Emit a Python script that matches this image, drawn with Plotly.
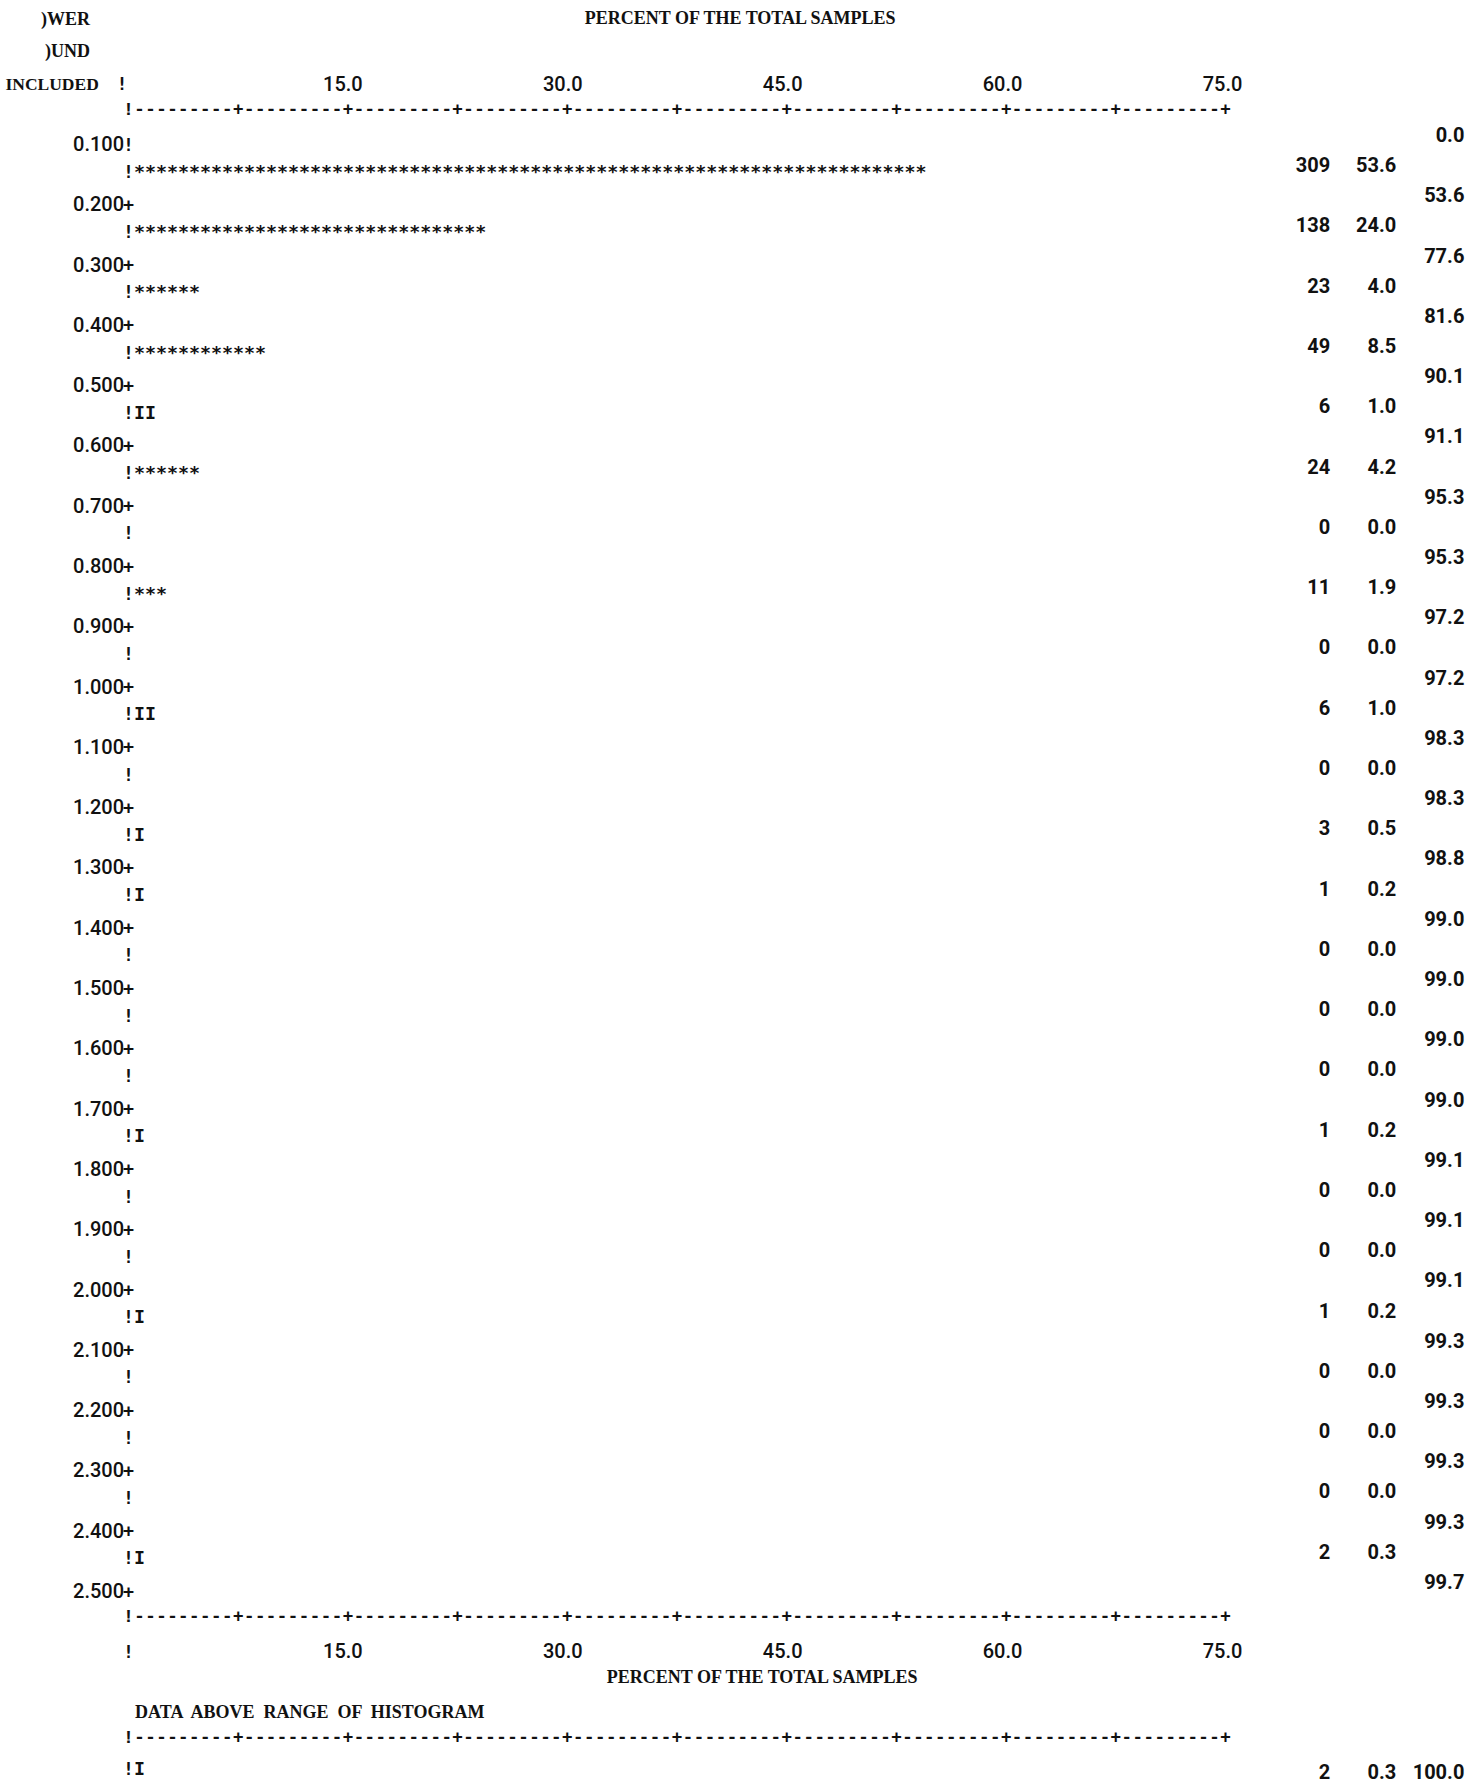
import math
import plotly.graph_objects as go

# ---------------- data ----------------
bound_labels = [0.100, 0.200, 0.300, 0.400, 0.500, 0.600, 0.700, 0.800, 0.900, 1.000,
                1.100, 1.200, 1.300, 1.400, 1.500, 1.600, 1.700, 1.800, 1.900, 2.000,
                2.100, 2.200, 2.300, 2.400, 2.500]
counts = [309, 138, 23, 49, 6, 24, 0, 11, 0, 6, 0, 3, 1, 0, 0, 0, 1, 0, 0, 1, 0, 0, 0, 2]
percents = [53.6, 24.0, 4.0, 8.5, 1.0, 4.2, 0.0, 1.9, 0.0, 1.0, 0.0, 0.5, 0.2, 0.0, 0.0,
            0.0, 0.2, 0.0, 0.0, 0.2, 0.0, 0.0, 0.0, 0.3]
cumulative = [0.0, 53.6, 77.6, 81.6, 90.1, 91.1, 95.3, 95.3, 97.2, 97.2, 98.3, 98.3, 98.8,
              99.0, 99.0, 99.0, 99.0, 99.1, 99.1, 99.1, 99.3, 99.3, 99.3, 99.3, 99.7]
above_count = 2
above_percent = 0.3
above_cumulative = 100.0
tick_values = [15.0, 30.0, 45.0, 60.0, 75.0]
ruler_step = 7.5
axis_max = 75.0

# ---------------- printer grid ----------------
COL = 0.75           # percent per printed character column
ROW = 0.05           # y units per printed line (half a bin)
RIGHT_SHIFT = 0.015  # right-hand columns sit slightly higher on the page
STAR_SHIFT = 0.005   # bar glyph rows sit slightly higher
RULER_SHIFT = 0.009  # dashed rulers sit slightly higher
FS = 18.3
MONO = "Liberation Mono, Courier New, monospace"
SANS_MONO = "DejaVu Sans Mono, Liberation Mono, monospace"
DIGITS = "Roboto, Noto Sans, sans-serif"
SERIF = "Liberation Serif, DejaVu Serif, serif"
INK = "#111111"
NS = 20   # size of numeric text

def bar_string(cnt, pct):
    n = math.ceil(round(pct / COL, 6))
    glyph = "*" if cnt >= 10 else "I"
    return "!" + glyph * n

chars_per_step = int(round(ruler_step / COL))
ruler = "!" + ("-" * (chars_per_step - 1) + "+") * int(round(axis_max / ruler_step))

bar_rows = [b + ROW for b in bound_labels[:-1]]
first_row = bound_labels[0]
last_row = bound_labels[-1]

fig = go.Figure()

def text_trace(x, y, text, pos, font=MONO, weight="normal", size=FS):
    fig.add_trace(go.Scatter(
        x=x, y=y, text=text, mode="text", textposition=pos,
        textfont=dict(family=font, size=size, color=INK, weight=weight),
        hoverinfo="skip", showlegend=False, cliponaxis=False))

# lower-bound labels: number, then "!" / "+" in the axis column
text_trace([-0.4 * COL] * len(bound_labels), bound_labels,
           [f"{b:.3f}" for b in bound_labels], "middle left", font=DIGITS, size=NS, weight=500)
text_trace([0.0] * len(bound_labels), bound_labels,
           ["!" if i == 0 else "+" for i in range(len(bound_labels))],
           "middle center", font=SANS_MONO, weight="bold")

# histogram bars (one printed column per 0.75 %)
text_trace([-0.5 * COL] * len(bar_rows), [y - STAR_SHIFT for y in bar_rows],
           [bar_string(c, p) for c, p in zip(counts, percents)],
           "middle right", font=SANS_MONO, weight="bold")

# counts / percents / cumulative percents
text_trace([109.3 * COL] * len(counts), [y - RIGHT_SHIFT for y in bar_rows],
           [str(c) for c in counts], "middle left", font=DIGITS, size=NS, weight="bold")
text_trace([115.3 * COL] * len(percents), [y - RIGHT_SHIFT for y in bar_rows],
           [f"{p:.1f}" for p in percents], "middle left", font=DIGITS, size=NS, weight="bold")
text_trace([121.5 * COL] * len(cumulative), [y - RIGHT_SHIFT for y in bound_labels],
           [f"{c:.1f}" for c in cumulative], "middle left", font=DIGITS, size=NS, weight="bold")

# rulers
top_ruler = first_row - ROW
bottom_ruler = last_row + ROW
above_ruler = last_row + 5 * ROW
text_trace([-0.5 * COL] * 3,
           [top_ruler - RULER_SHIFT, bottom_ruler - RULER_SHIFT, above_ruler - RULER_SHIFT],
           [ruler] * 3, "middle right", weight="bold")

# tick labels (top and bottom)
top_ticks = first_row - 2 * ROW
bottom_ticks = last_row + 2 * ROW
text_trace([t - 0.5 * COL for t in tick_values] * 2,
           [top_ticks] * len(tick_values) + [bottom_ticks] * len(tick_values),
           [f"{t:.1f}" for t in tick_values] * 2, "middle center", font=DIGITS, size=NS, weight=500)
text_trace([0.5 * COL], [bottom_ticks], ["!"], "middle left", font=SANS_MONO, weight="bold")
text_trace([-0.1 * COL], [top_ticks], ["!"], "middle left", font=SANS_MONO, weight="bold")

# headings
HS = 18
text_trace([-2.7 * COL], [top_ticks], ["INCLUDED"], "middle left", font=SERIF, size=17.5, weight="bold")
text_trace([-3.5 * COL], [first_row - 4.15 * ROW], [")WER"], "middle left", font=SERIF, size=HS, weight="bold")
text_trace([-3.5 * COL], [first_row - 3.1 * ROW], [")UND"], "middle left", font=SERIF, size=HS, weight="bold")
text_trace([41.5 * COL], [first_row - 4.2 * ROW], ["PERCENT OF THE TOTAL SAMPLES"],
           "middle right", font=SERIF, size=HS, weight="bold")
text_trace([43.5 * COL], [last_row + 2.85 * ROW], ["PERCENT OF THE TOTAL SAMPLES"],
           "middle right", font=SERIF, size=HS, weight="bold")
text_trace([0.6 * COL], [last_row + 4 * ROW], ["DATA  ABOVE  RANGE  OF  HISTOGRAM"],
           "middle right", font=SERIF, size=HS, weight="bold")

# data above range
above_row = last_row + 6 * ROW
text_trace([-0.5 * COL], [above_row - STAR_SHIFT], [bar_string(above_count, above_percent)],
           "middle right", font=SANS_MONO, weight="bold")
text_trace([109.3 * COL, 115.3 * COL, 121.5 * COL], [above_row] * 3,
           [str(above_count), f"{above_percent:.1f}", f"{above_cumulative:.1f}"],
           "middle left", font=DIGITS, size=NS, weight="bold")

# ---------------- layout: page coordinates ----------------
W, H = 1478, 1789
x0_px, px_per_pct = 128.5, 14.66
y0_px, px_per_unit = 146.0, 602.9
x_range = [-x0_px / px_per_pct, (W - x0_px) / px_per_pct]
y_range = [first_row + (H - y0_px) / px_per_unit, first_row - y0_px / px_per_unit]

fig.update_layout(
    width=W, height=H,
    margin=dict(l=0, r=0, t=0, b=0),
    paper_bgcolor="white", plot_bgcolor="white",
    xaxis=dict(range=x_range, visible=False, fixedrange=True),
    yaxis=dict(range=y_range, visible=False, fixedrange=True),
    showlegend=False,
)

fig.write_html("out.html", config={"displayModeBar": False})
